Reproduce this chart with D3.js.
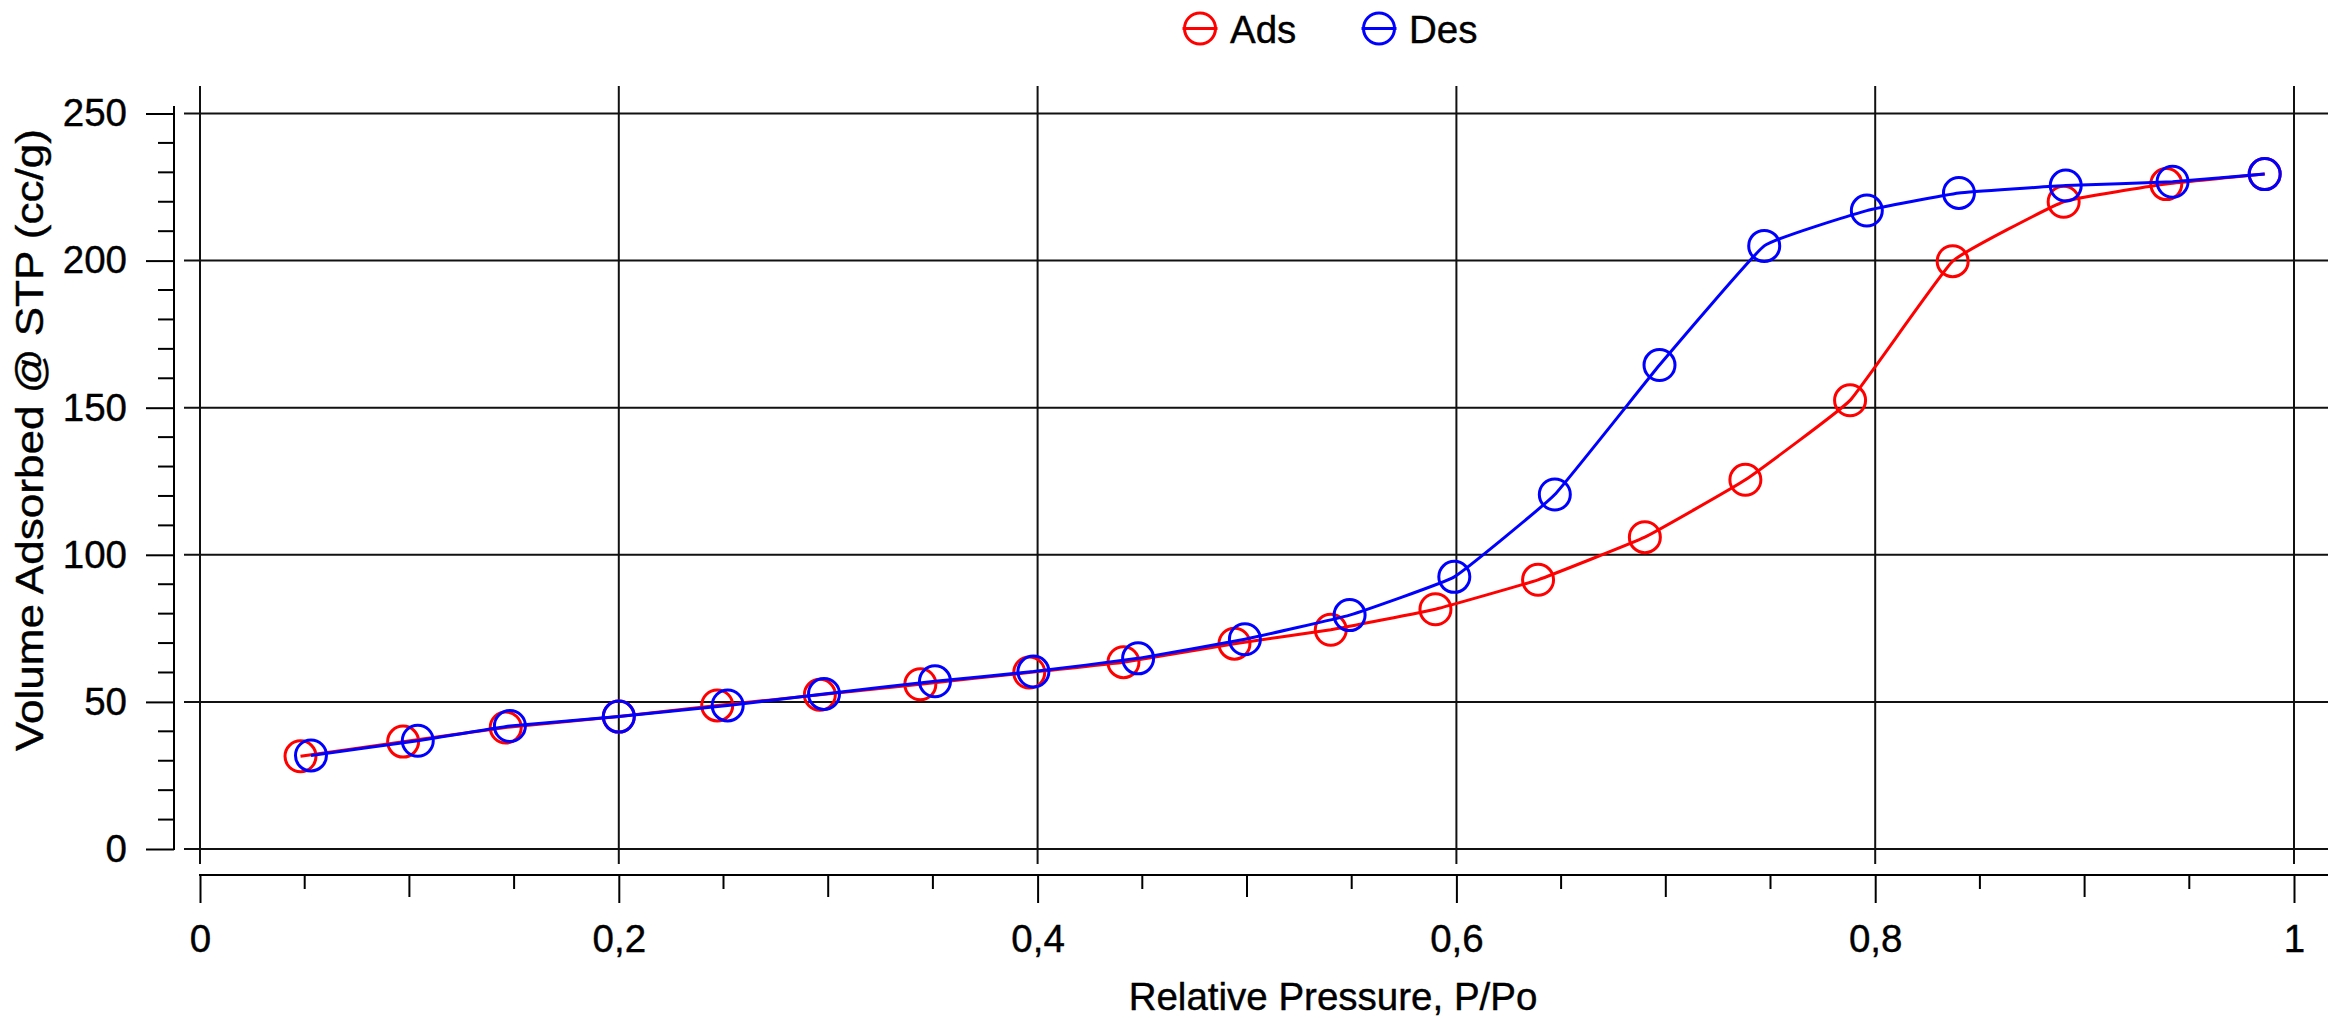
<!DOCTYPE html>
<html>
<head>
<meta charset="utf-8">
<script src="https://cdn.jsdelivr.net/npm/d3@7"></script>
<style>
  html, body { margin: 0; padding: 0; background: #fff; }
  svg { display: block; }
  text { font-family: "Liberation Sans", Arial, sans-serif; fill: #000; stroke: #000; stroke-width: 0.4px; }
</style>
</head>
<body>
<svg id="chart" width="2341" height="1018"></svg>
<script>
// Nitrogen isotherm: relative pressure vs. volume adsorbed
const adsPressure = [0.048, 0.097, 0.146, 0.200, 0.247, 0.296, 0.344, 0.396, 0.441, 0.494,
                     0.540, 0.590, 0.639, 0.690, 0.738, 0.788, 0.837, 0.890, 0.939, 0.986];
const adsVolume   = [31.5, 36.5, 41.3, 45.0, 48.8, 52.4, 56.0, 60.0, 63.5, 69.8,
                     74.5, 81.5, 91.5, 106.0, 125.5, 152.5, 199.8, 220.0, 226.0, 229.4];

const desPressure = [0.986, 0.942, 0.891, 0.840, 0.796, 0.747, 0.697, 0.647, 0.599, 0.549,
                     0.499, 0.448, 0.398, 0.351, 0.298, 0.252, 0.200, 0.148, 0.104, 0.053];
const desVolume   = [229.4, 226.8, 225.5, 223.0, 217.0, 205.0, 164.5, 120.5, 92.5, 79.5,
                     71.3, 64.8, 60.3, 57.0, 52.7, 48.8, 45.0, 41.8, 36.8, 31.8];

const xTickValues = [0, 0.2, 0.4, 0.6, 0.8, 1];
const xTickLabels = ["0", "0,2", "0,4", "0,6", "0,8", "1"];
const yTickValues = [0, 50, 100, 150, 200, 250];
const yTickLabels = ["0", "50", "100", "150", "200", "250"];

const seriesNames  = ["Ads", "Des"];
const seriesColors = ["#ff0000", "#0000ff"];

const svg = d3.select("#chart");
svg.append("rect").attr("width", 2341).attr("height", 1018).attr("fill", "#fff");

const x = d3.scaleLinear().domain([0, 1]).range([200, 2294]);
const y = d3.scaleLinear().domain([0, 250]).range([849, 113.5]);

const FONT = 38.5;
const INK = "#000";

// grid
const grid = svg.append("g");
grid.selectAll("line.h").data(yTickValues).join("line")
  .attr("x1", 184).attr("x2", 2328)
  .attr("y1", d => y(d)).attr("y2", d => y(d))
  .attr("stroke", "#111").attr("stroke-width", 2);
grid.selectAll("line.v").data(xTickValues).join("line")
  .attr("y1", 86).attr("y2", 864)
  .attr("x1", d => x(d)).attr("x2", d => x(d))
  .attr("stroke", "#111").attr("stroke-width", 2);

// y axis (offset to the left of the grid)
const yAxisX = 174;
const yAxis = d3.axisLeft(y)
  .tickValues(yTickValues)
  .tickFormat((d, i) => yTickLabels[i])
  .tickSize(28).tickSizeOuter(0).tickPadding(19);
const gy = svg.append("g").attr("transform", `translate(${yAxisX},0)`).call(yAxis);
gy.select(".domain").remove();
gy.selectAll(".tick line").attr("stroke", INK).attr("stroke-width", 2);
gy.selectAll(".tick text").attr("font-size", FONT).attr("fill", INK)
  .style("font-family", "'Liberation Sans', Arial, sans-serif");
gy.append("line").attr("x1", 0).attr("x2", 0).attr("y1", 106).attr("y2", y(0) + 1)
  .attr("stroke", INK).attr("stroke-width", 2);
const yMinor = d3.range(0, 251, 10).filter(v => v % 50 !== 0);
gy.selectAll("line.minor").data(yMinor).join("line").attr("class", "minor")
  .attr("x1", -16).attr("x2", 0)
  .attr("y1", d => y(d)).attr("y2", d => y(d))
  .attr("stroke", INK).attr("stroke-width", 2);

// x axis (offset below the grid)
const xAxisY = 875;
const xAxis = d3.axisBottom(x)
  .tickValues(xTickValues)
  .tickFormat((d, i) => xTickLabels[i])
  .tickSize(28).tickSizeOuter(0).tickPadding(22);
const gx = svg.append("g").attr("transform", `translate(0,${xAxisY})`).call(xAxis);
gx.select(".domain").remove();
gx.selectAll(".tick line").attr("stroke", INK).attr("stroke-width", 2);
gx.selectAll(".tick text").attr("font-size", FONT).attr("fill", INK)
  .style("font-family", "'Liberation Sans', Arial, sans-serif");
gx.append("line").attr("x1", x(0) - 1).attr("x2", 2328).attr("y1", 0).attr("y2", 0)
  .attr("stroke", INK).attr("stroke-width", 2);
const xMinor = d3.range(1, 20).map(i => i * 0.05).filter((v, i) => (i + 1) % 4 !== 0);
gx.selectAll("line.minor").data(xMinor).join("line").attr("class", "minor")
  .attr("x1", d => x(d)).attr("x2", d => x(d))
  .attr("y1", 0)
  .attr("y2", d => (Math.round(d * 20) % 2 === 0 ? 22 : 14))
  .attr("stroke", INK).attr("stroke-width", 2);

// axis titles
svg.append("text")
  .attr("x", 1333).attr("y", 1010)
  .attr("text-anchor", "middle").attr("font-size", FONT)
  .text("Relative Pressure, P/Po");
svg.append("text")
  .attr("transform", "translate(43,440) rotate(-90) scale(1.145,1)")
  .attr("text-anchor", "middle").attr("font-size", FONT)
  .text("Volume Adsorbed @ STP (cc/g)");

// series
const series = [
  { name: seriesNames[0], color: seriesColors[0], pts: adsPressure.map((p, i) => [p, adsVolume[i]]) },
  { name: seriesNames[1], color: seriesColors[1], pts: desPressure.map((p, i) => [p, desVolume[i]]) }
];
const line = d3.line()
  .x(d => x(d[0])).y(d => y(d[1]))
  .curve(d3.curveCardinal.tension(0.7));
const R = 15.5;

series.forEach(s => {
  const g = svg.append("g");
  const sorted = s.pts.slice().sort((a, b) => a[0] - b[0]);
  g.append("path").attr("d", line(sorted))
    .attr("fill", "none").attr("stroke", s.color).attr("stroke-width", 3);
  g.selectAll("circle").data(s.pts).join("circle")
    .attr("cx", d => x(d[0])).attr("cy", d => y(d[1])).attr("r", R)
    .attr("fill", "none").attr("stroke", s.color).attr("stroke-width", 3);
});

// legend
const legendX = [1200, 1379];
const legend = svg.append("g");
series.forEach((s, i) => {
  const lg = legend.append("g").attr("transform", `translate(${legendX[i]},28.5)`);
  lg.append("line").attr("x1", -R - 2).attr("x2", R + 2).attr("y1", 0).attr("y2", 0)
    .attr("stroke", s.color).attr("stroke-width", 3);
  lg.append("circle").attr("r", R).attr("fill", "none")
    .attr("stroke", s.color).attr("stroke-width", 3);
  lg.append("text").attr("x", 30).attr("y", 14.2).attr("font-size", FONT).text(s.name);
});
</script>
</body>
</html>
